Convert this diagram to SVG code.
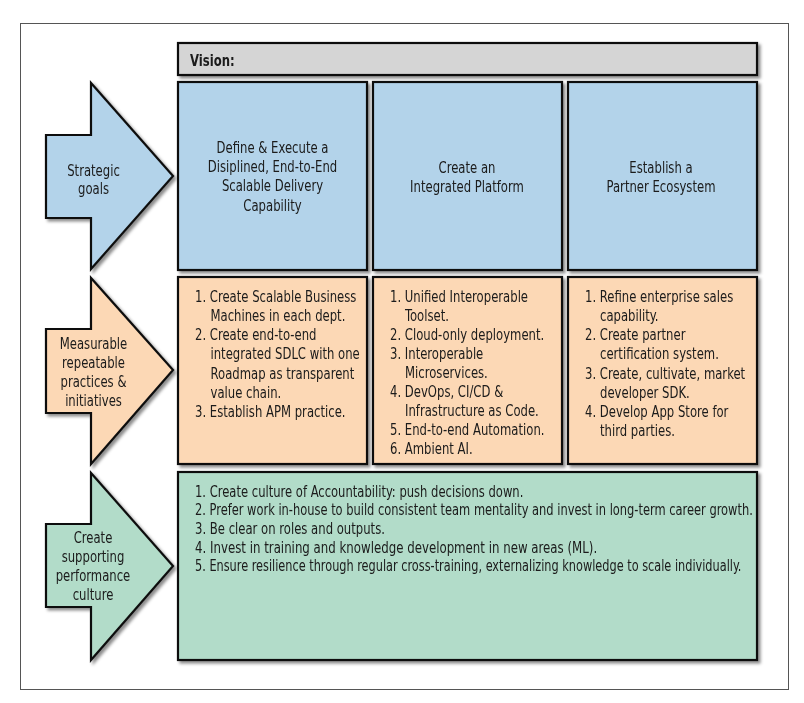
<svg xmlns="http://www.w3.org/2000/svg" width="804" height="703" viewBox="0 0 804 703">
<defs>
<style>
text{font-family:"DejaVu Sans Condensed","DejaVu Sans","Liberation Sans",sans-serif;font-size:16.5px;fill:#1a1a1a;font-stretch:condensed}
.c{text-anchor:middle}
.box{stroke:#111;stroke-width:2.2}
.blue{fill:#b3d3ea}
.orange{fill:#fcd8b5}
.green{fill:#b2dcc9}
.gray{fill:#d5d5d5}
</style>
<filter id="sh" x="-10%" y="-10%" width="130%" height="130%">
<feDropShadow dx="2.5" dy="2.5" stdDeviation="1.5" flood-color="#000" flood-opacity="0.45"/>
</filter>
</defs>
<rect x="20.5" y="23.5" width="768" height="666" fill="#fff" stroke="#555" stroke-width="1"/>
<g id="vision" filter="url(#sh)">
<rect class="box gray" x="178" y="43" width="579" height="32"/>
<text transform="translate(190,66) scale(0.785,1)" style="font-weight:bold">Vision:</text>
</g>
<g id="arrow-strategic" filter="url(#sh)">
<polygon class="box blue" points="46,135 91,135 91,83 173,176 91,269 91,218 46,218"/>
<text class="c" transform="translate(93.5,176) scale(0.785,1)">Strategic</text>
<text class="c" transform="translate(93.5,194) scale(0.785,1)">goals</text>
</g>
<g id="arrow-practices" filter="url(#sh)">
<polygon class="box orange" points="46,329 91,329 91,278 173,370 91,464 91,413 46,413"/>
<text class="c" transform="translate(93.5,348.5) scale(0.785,1)">Measurable</text>
<text class="c" transform="translate(93.5,367.5) scale(0.785,1)">repeatable</text>
<text class="c" transform="translate(93.5,386.5) scale(0.785,1)">practices &amp;</text>
<text class="c" transform="translate(93.5,405.5) scale(0.785,1)">initiatives</text>
</g>
<g id="arrow-culture" filter="url(#sh)">
<polygon class="box green" points="46,524 91,524 91,473 173,566 91,660 91,607 46,607"/>
<text class="c" transform="translate(93,543) scale(0.785,1)">Create</text>
<text class="c" transform="translate(93,562) scale(0.785,1)">supporting</text>
<text class="c" transform="translate(93,581) scale(0.785,1)">performance</text>
<text class="c" transform="translate(93,600) scale(0.785,1)">culture</text>
</g>
<g id="goal-delivery" filter="url(#sh)">
<rect class="box blue" x="178" y="82" width="189" height="188"/>
<text class="c" transform="translate(272.5,153) scale(0.785,1)">Define &amp; Execute a</text>
<text class="c" transform="translate(272.5,172) scale(0.785,1)">Disiplined, End-to-End</text>
<text class="c" transform="translate(272.5,191) scale(0.785,1)">Scalable Delivery</text>
<text class="c" transform="translate(272.5,210.5) scale(0.785,1)">Capability</text>
</g>
<g id="goal-platform" filter="url(#sh)">
<rect class="box blue" x="373" y="82" width="189" height="188"/>
<text class="c" transform="translate(467,173) scale(0.785,1)">Create an</text>
<text class="c" transform="translate(467,192) scale(0.785,1)">Integrated Platform</text>
</g>
<g id="goal-ecosystem" filter="url(#sh)">
<rect class="box blue" x="568" y="82" width="189" height="188"/>
<text class="c" transform="translate(661,173) scale(0.785,1)">Establish a</text>
<text class="c" transform="translate(661,192) scale(0.785,1)">Partner Ecosystem</text>
</g>
<g id="practices-delivery" filter="url(#sh)">
<rect class="box orange" x="178" y="277" width="189" height="187"/>
<text transform="translate(195,301.7) scale(0.785,1)">1. Create Scalable Business</text>
<text transform="translate(210.5,320.9) scale(0.785,1)">Machines in each dept.</text>
<text transform="translate(195,340.1) scale(0.785,1)">2. Create end-to-end</text>
<text transform="translate(210.5,359.3) scale(0.785,1)">integrated SDLC with one</text>
<text transform="translate(210.5,378.5) scale(0.785,1)">Roadmap as transparent</text>
<text transform="translate(210.5,397.7) scale(0.785,1)">value chain.</text>
<text transform="translate(195,416.9) scale(0.785,1)">3. Establish APM practice.</text>
</g>
<g id="practices-platform" filter="url(#sh)">
<rect class="box orange" x="373" y="277" width="189" height="187"/>
<text transform="translate(390,301.5) scale(0.785,1)">1. Unified Interoperable</text>
<text transform="translate(405,320.6) scale(0.785,1)">Toolset.</text>
<text transform="translate(390,339.7) scale(0.785,1)">2. Cloud-only deployment.</text>
<text transform="translate(390,358.8) scale(0.785,1)">3. Interoperable</text>
<text transform="translate(405,377.9) scale(0.785,1)">Microservices.</text>
<text transform="translate(390,397) scale(0.785,1)">4. DevOps, CI/CD &amp;</text>
<text transform="translate(405,416.1) scale(0.785,1)">Infrastructure as Code.</text>
<text transform="translate(390,435.2) scale(0.785,1)">5. End-to-end Automation.</text>
<text transform="translate(390,454.3) scale(0.785,1)">6. Ambient AI.</text>
</g>
<g id="practices-ecosystem" filter="url(#sh)">
<rect class="box orange" x="568" y="277" width="189" height="187"/>
<text transform="translate(585,301.7) scale(0.785,1)">1. Refine enterprise sales</text>
<text transform="translate(600,320.9) scale(0.785,1)">capability.</text>
<text transform="translate(585,340.1) scale(0.785,1)">2. Create partner</text>
<text transform="translate(600,359.3) scale(0.785,1)">certification system.</text>
<text transform="translate(585,378.5) scale(0.785,1)">3. Create, cultivate, market</text>
<text transform="translate(600,397.7) scale(0.785,1)">developer SDK.</text>
<text transform="translate(585,416.9) scale(0.785,1)">4. Develop App Store for</text>
<text transform="translate(600,436.1) scale(0.785,1)">third parties.</text>
</g>
<g id="culture" filter="url(#sh)">
<rect class="box green" x="178" y="472" width="579" height="188"/>
<text transform="translate(195,496.7) scale(0.78,1)">1. Create culture of Accountability: push decisions down.</text>
<text transform="translate(195,515.3) scale(0.772,1)">2. Prefer work in-house to build consistent team mentality and invest in long-term career growth.</text>
<text transform="translate(195,533.9) scale(0.785,1)">3. Be clear on roles and outputs.</text>
<text transform="translate(195,552.5) scale(0.795,1)">4. Invest in training and knowledge development in new areas (ML).</text>
<text transform="translate(195,571.1) scale(0.763,1)">5. Ensure resilience through regular cross-training, externalizing knowledge to scale individually.</text>
</g>
<g id="connectors"></g>
</svg>
